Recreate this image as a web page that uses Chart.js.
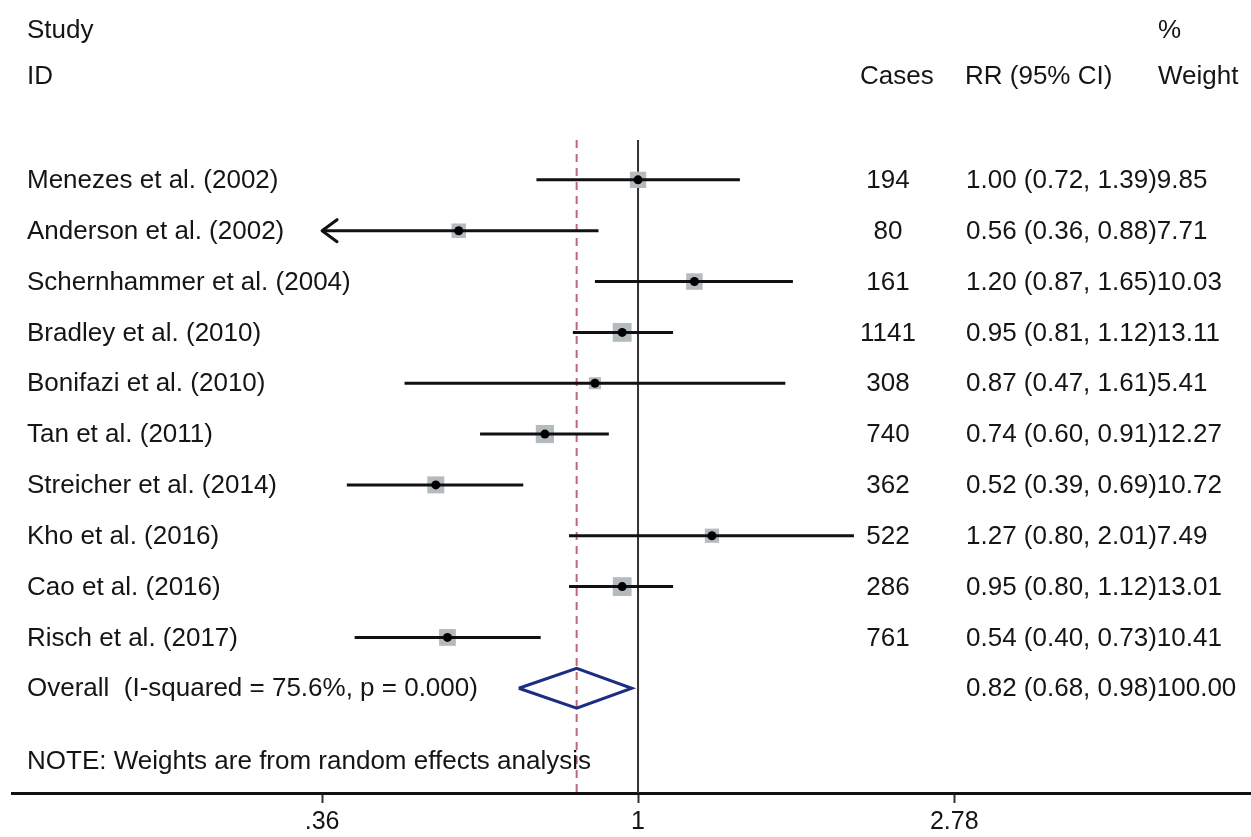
<!DOCTYPE html>
<html>
<head>
<meta charset="utf-8">
<title>Forest plot</title>
<script src="https://cdn.jsdelivr.net/npm/chart.js@4.4.1/dist/chart.umd.min.js"></script>
<style>
  html, body { margin: 0; padding: 0; background: #fff; overflow: hidden; }
  #wrap { width: 1251px; height: 837px; }
  canvas { display: block; }
</style>
</head>
<body>
<div id="wrap"><canvas id="forest" width="1251" height="837"></canvas></div>
<script>
// data
const studies = [
  "Menezes et al. (2002)",
  "Anderson et al. (2002)",
  "Schernhammer et al. (2004)",
  "Bradley et al. (2010)",
  "Bonifazi et al. (2010)",
  "Tan et al. (2011)",
  "Streicher et al. (2014)",
  "Kho et al. (2016)",
  "Cao et al. (2016)",
  "Risch et al. (2017)"
];
const cases = [194, 80, 161, 1141, 308, 740, 362, 522, 286, 761];
const rr = [1.00, 0.56, 1.20, 0.95, 0.87, 0.74, 0.52, 1.27, 0.95, 0.54];
const ciLow = [0.72, 0.36, 0.87, 0.81, 0.47, 0.60, 0.39, 0.80, 0.80, 0.40];
const ciHigh = [1.39, 0.88, 1.65, 1.12, 1.61, 0.91, 0.69, 2.01, 1.12, 0.73];
const weights = [9.85, 7.71, 10.03, 13.11, 5.41, 12.27, 10.72, 7.49, 13.01, 10.41];

const overallLabel = "Overall  (I-squared = 75.6%, p = 0.000)";
const overallRR = 0.82;
const overallLow = 0.68;
const overallHigh = 0.98;
const overallWeight = "100.00";
const noteText = "NOTE: Weights are from random effects analysis";

const xTicks = [0.36, 1, 2.78];
const xTickLabels = [".36", "1", "2.78"];

// layout
const FONT = '"Liberation Sans", Arial, sans-serif';
const overallRow = studies.length + 1;
const noteRow = 12.45;
const yTop = 0.216, yBottom = 13.06;

function fmt(v) { return v.toFixed(2); }
function boxSide(w) { return 5.2 * Math.sqrt(w); }

// CI segments, broken with empty points
const ciData = [];
studies.forEach((s, i) => {
  ciData.push({ x: ciLow[i], y: i + 1 });
  ciData.push({ x: ciHigh[i], y: i + 1 });
  ciData.push({ x: ciHigh[i], y: null });
});

const diamondHalf = 0.39;
const diamondData = [
  { x: overallLow, y: overallRow },
  { x: overallRR, y: overallRow - diamondHalf },
  { x: overallHigh, y: overallRow },
  { x: overallRR, y: overallRow + diamondHalf },
  { x: overallLow, y: overallRow }
];

const forestText = {
  id: "forestText",
  afterDraw(chart) {
    const ctx = chart.ctx;
    const x = chart.scales.x;
    const y = chart.scales.y;
    ctx.save();
    ctx.font = "26px " + FONT;
    ctx.fillStyle = "#151515";
    ctx.textBaseline = "middle";
    ctx.textAlign = "left";

    // headers
    ctx.fillText("Study", 27, 31);
    ctx.fillText("ID", 27, 77);
    ctx.fillText("Cases", 860, 77);
    ctx.fillText("RR (95% CI)", 965, 77);
    ctx.fillText("%", 1158, 31);
    ctx.fillText("Weight", 1158, 77);

    studies.forEach((s, i) => {
      const py = y.getPixelForValue(i + 1) + 1;
      ctx.textAlign = "left";
      ctx.fillText(s, 27, py);
      ctx.textAlign = "center";
      ctx.fillText(String(cases[i]), 888, py);
      ctx.textAlign = "left";
      const t = fmt(rr[i]) + " (" + fmt(ciLow[i]) + ", " + fmt(ciHigh[i]) + ")";
      ctx.fillText(t, 966, py);
      ctx.fillText(fmt(weights[i]), 966 + ctx.measureText(t).width, py);

      // arrow where the CI runs past the axis range
      if (ciLow[i] <= xTicks[0]) {
        const px = x.getPixelForValue(ciLow[i]);
        const ly = y.getPixelForValue(i + 1);
        ctx.strokeStyle = "#111";
        ctx.lineWidth = 3;
        ctx.lineCap = "round";
        ctx.lineJoin = "round";
        ctx.beginPath();
        ctx.moveTo(px + 15, ly - 11);
        ctx.lineTo(px, ly);
        ctx.lineTo(px + 15, ly + 11);
        ctx.stroke();
      }
    });

    const oy = y.getPixelForValue(overallRow) + 1;
    ctx.fillText(overallLabel, 27, oy);
    const ot = fmt(overallRR) + " (" + fmt(overallLow) + ", " + fmt(overallHigh) + ")";
    ctx.fillText(ot, 966, oy);
    ctx.fillText(overallWeight, 966 + ctx.measureText(ot).width, oy);

    ctx.fillText(noteText, 27, y.getPixelForValue(noteRow));
    ctx.restore();
  }
};

new Chart(document.getElementById("forest"), {
  type: "scatter",
  data: {
    datasets: [
      {
        label: "RR",
        data: rr.map((v, i) => ({ x: v, y: i + 1 })),
        pointRadius: 4.5,
        pointBackgroundColor: "#000",
        pointBorderWidth: 0,
        order: 0
      },
      {
        type: "line",
        label: "95% CI",
        data: ciData,
        borderColor: "#111",
        borderWidth: 3,
        pointRadius: 0,
        spanGaps: false,
        order: 1
      },
      {
        type: "line",
        label: "Overall",
        data: diamondData,
        borderColor: "#1e2d82",
        borderWidth: 3,
        borderJoinStyle: "miter",
        pointRadius: 0,
        fill: false,
        order: 2
      },
      {
        label: "Weight",
        data: rr.map((v, i) => ({ x: v, y: i + 1 })),
        pointStyle: "rect",
        pointRadius: weights.map(w => boxSide(w) / Math.SQRT2),
        pointBackgroundColor: "#b4bbbe",
        pointBorderWidth: 0,
        order: 3
      },
      {
        type: "line",
        label: "Overall effect",
        data: [{ x: overallRR, y: yTop }, { x: overallRR, y: yBottom }],
        borderColor: "#bf6877",
        borderWidth: 2,
        borderDash: [8, 6],
        pointRadius: 0,
        order: 4
      },
      {
        type: "line",
        label: "No effect",
        data: [{ x: 1, y: yTop }, { x: 1, y: yBottom }],
        borderColor: "#333",
        borderWidth: 2,
        pointRadius: 0,
        order: 5
      }
    ]
  },
  options: {
    responsive: false,
    animation: false,
    devicePixelRatio: 1,
    layout: {
      autoPadding: false,
      padding: { left: 12, right: 0, top: 140, bottom: -4 }
    },
    plugins: {
      legend: { display: false },
      tooltip: { enabled: false }
    },
    scales: {
      x: {
        type: "logarithmic",
        min: 0.1321,
        max: 7.257,
        afterBuildTicks: s => { s.ticks = xTicks.map(v => ({ value: v })); },
        afterFit: s => { s.paddingLeft = 0; s.paddingRight = 0; },
        ticks: {
          callback: (v, i) => xTickLabels[i],
          font: { size: 25, family: FONT },
          color: "#151515",
          padding: 4,
          maxRotation: 0,
          autoSkip: false
        },
        grid: {
          drawOnChartArea: false,
          drawTicks: true,
          tickLength: 10,
          tickWidth: 2,
          tickColor: "#333"
        },
        border: { display: true, color: "#111", width: 3 }
      },
      y: {
        type: "linear",
        reverse: true,
        min: yTop,
        max: yBottom,
        display: false
      }
    }
  },
  plugins: [forestText]
});
</script>
</body>
</html>
